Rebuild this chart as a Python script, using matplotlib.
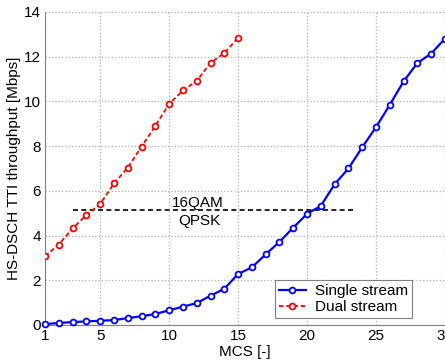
import numpy as np
import matplotlib
matplotlib.use('Agg')
import matplotlib.pyplot as plt

# throughput per MCS
mcs_single = list(range(1, 31))
single = [0.04, 0.09, 0.13, 0.16, 0.19, 0.22, 0.31, 0.39, 0.49, 0.66,
          0.82, 0.98, 1.31, 1.62, 2.28, 2.58, 3.16, 3.72, 4.36, 4.97,
          5.33, 6.30, 7.00, 7.95, 8.85, 9.85, 10.90, 11.72, 12.14, 12.81]
mcs_dual = list(range(1, 16))
dual = [3.08, 3.60, 4.32, 4.92, 5.41, 6.33, 7.04, 7.98, 8.91, 9.89,
        10.49, 10.92, 11.72, 12.17, 12.84]

threshold = 5.15
threshold_span = [3.0, 23.3]

plt.rcParams['font.family'] = ['Liberation Sans', 'DejaVu Sans']
plt.rcParams['font.size'] = 11

fig = plt.figure(figsize=(4.45, 3.63), dpi=100)
ax = fig.add_axes([45 / 445, 38 / 363, 400 / 445, 313 / 363])

ax.plot(mcs_single, single, color='blue', ls='-', lw=1.6, marker='o',
        markersize=4.2, markerfacecolor='white', markeredgewidth=1.3,
        label='Single stream', clip_on=False, zorder=3)
ax.plot(mcs_dual, dual, color='red', ls='--', dashes=(2.5, 1.5), lw=1.3, marker='o',
        markersize=4.2, markerfacecolor='white', markeredgewidth=1.3,
        label='Dual stream', zorder=3)

ax.plot(threshold_span, [threshold, threshold], color='black', ls='--',
        dashes=(3, 2), lw=1.2)
ax.text(12.1, 5.47, '16QAM', ha='center', va='center', fontsize=11)
ax.text(12.2, 4.65, 'QPSK', ha='center', va='center', fontsize=11)

ax.set_xlim(1, 30)
ax.set_ylim(0, 14)
ax.set_xticks([1, 5, 10, 15, 20, 25, 30])
ax.set_yticks(range(0, 15, 2))
ax.grid(True, ls=':', color='#b0b0b0', lw=0.9)
ax.tick_params(direction='in', length=0, pad=3)

for s in ['top', 'right']:
    ax.spines[s].set_visible(False)
for s in ['left', 'bottom']:
    ax.spines[s].set_color('#808080')

ax.set_xlabel('MCS [-]', labelpad=1)
ax.set_ylabel('HS-DSCH TTI throughput [Mbps]', labelpad=2)

leg = ax.legend(loc='lower right', bbox_to_anchor=(0.918, 0.022), fancybox=False,
                edgecolor='#808080', framealpha=1, handlelength=1.8,
                handletextpad=0.6, borderpad=0.25, labelspacing=0.15,
                borderaxespad=0, fontsize=11)
leg.get_frame().set_linewidth(0.8)

fig.savefig('out.png', dpi=100)
